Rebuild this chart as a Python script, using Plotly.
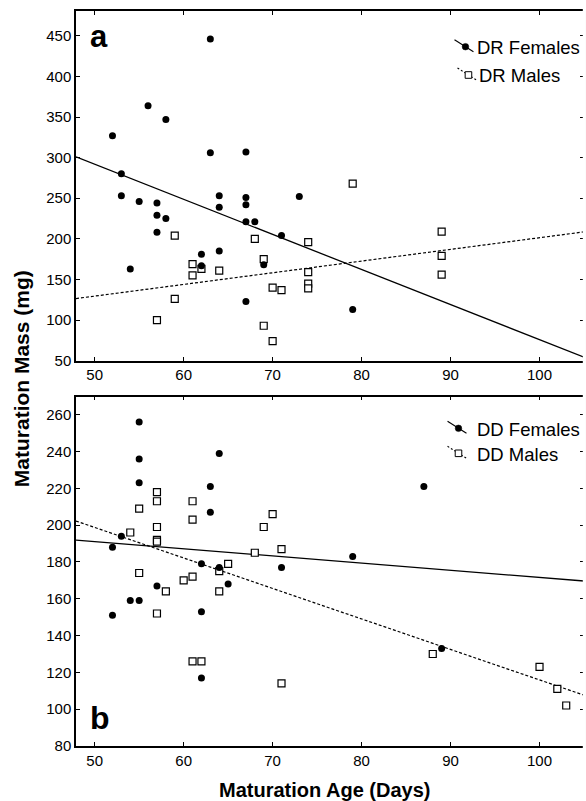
import plotly.graph_objects as go

# ---------------- data ----------------
DR_F_AGE = [63, 56, 58, 52, 63, 67, 53, 53, 55, 57, 57, 58, 57, 64, 64, 67, 67, 67, 68,
            73, 71, 62, 62, 64, 54, 69, 67, 79]
DR_F_MASS = [446, 364, 347, 327, 306, 307, 280, 253, 246, 244, 229, 225, 208, 253, 239,
             251, 242, 221, 221, 252, 204, 181, 167, 185, 163, 168, 123, 113]

DR_M_AGE = [79, 59, 68, 61, 61, 62, 64, 69, 59, 57, 70, 71, 69, 70, 74, 74, 74, 74, 89, 89, 89]
DR_M_MASS = [268, 204, 200, 169, 155, 163, 161, 175, 126, 100, 140, 137, 93, 74, 196, 159,
             145, 139, 209, 179, 156]

DD_F_AGE = [55, 55, 55, 64, 63, 63, 53, 52, 62, 64, 71, 65, 57, 87, 79, 52, 54, 55, 62, 62, 89]
DD_F_MASS = [256, 236, 223, 239, 221, 207, 194, 188, 179, 177, 177, 168, 167, 221, 183, 151,
             159, 159, 153, 117, 133]

DD_M_AGE = [55, 57, 57, 57, 57, 57, 54, 55, 61, 61, 69, 70, 68, 71, 65, 64, 61, 60, 58, 64,
            57, 61, 62, 71, 88, 100, 102, 103]
DD_M_MASS = [209, 218, 213, 199, 192, 191, 196, 174, 213, 203, 199, 206, 185, 187, 179, 175,
             172, 170, 164, 164, 152, 126, 126, 114, 130, 123, 111, 102]

# regression lines (intercept, slope) as drawn in the reference
DR_F_FIT = (507.9, -4.32)
DR_M_FIT = (57.6, 1.438)
DD_F_FIT = (210.6, -0.39)
DD_M_FIT = (281.6, -1.657)

X_RANGE = [47.9, 105.0]
X_TICKS = [50, 60, 70, 80, 90, 100]
DR_Y_RANGE = [50, 480.5]
DR_Y_TICKS = [50, 100, 150, 200, 250, 300, 350, 400, 450]
DD_Y_RANGE = [80, 269.8]
DD_Y_TICKS = [80, 100, 120, 140, 160, 180, 200, 220, 240, 260]

# ---------------- layout constants ----------------
W, H = 586, 801
ML, MR, MT, MB = 76, 0, 11, 55
PW = W - ML - MR
PH = H - MT - MB
FONT = "Arial, Liberation Sans, sans-serif"


def pxx(x):
    return (x - ML) / PW


def pxy(y):
    return (MT + PH - y) / PH


TOP_DOM = [pxy(360.7), 1.0]
BOT_DOM = [0.0, pxy(396.7)]


def fit_line(fit):
    a, b = fit
    return X_RANGE, [a + b * x for x in X_RANGE]


fig = go.Figure()

panels = [
    ("x", "y", DR_F_AGE, DR_F_MASS, DR_M_AGE, DR_M_MASS, DR_F_FIT, DR_M_FIT),
    ("x2", "y2", DD_F_AGE, DD_F_MASS, DD_M_AGE, DD_M_MASS, DD_F_FIT, DD_M_FIT),
]
for xa, ya, fa, fm, ma, mm, ff, mf in panels:
    lx, ly = fit_line(ff)
    fig.add_trace(go.Scatter(x=lx, y=ly, mode="lines", xaxis=xa, yaxis=ya,
                             line=dict(color="black", width=1.3), showlegend=False,
                             hoverinfo="skip"))
    lx, ly = fit_line(mf)
    fig.add_trace(go.Scatter(x=lx, y=ly, mode="lines", xaxis=xa, yaxis=ya,
                             line=dict(color="black", width=1.2, dash="3px,2px"),
                             showlegend=False, hoverinfo="skip"))
    fig.add_trace(go.Scatter(x=ma, y=mm, mode="markers", xaxis=xa, yaxis=ya,
                             marker=dict(symbol="square", size=7, color="white",
                                         line=dict(color="black", width=1.2)),
                             showlegend=False))
    fig.add_trace(go.Scatter(x=fa, y=fm, mode="markers", xaxis=xa, yaxis=ya,
                             marker=dict(symbol="circle", size=7, color="black",
                                         line=dict(width=0)),
                             showlegend=False))

axis_common = dict(showline=True, linecolor="black", linewidth=1.5, mirror="ticks",
                   ticks="inside", ticklen=4, tickwidth=1, tickcolor="black",
                   showgrid=False, zeroline=False,
                   tickfont=dict(family=FONT, size=15, color="black"))

fig.update_layout(
    width=W, height=H,
    margin=dict(l=ML, r=MR, t=MT, b=MB, pad=0),
    paper_bgcolor="white", plot_bgcolor="white",
    showlegend=False,
    xaxis=dict(domain=[0, 1], range=X_RANGE, tickvals=X_TICKS, anchor="y", **axis_common),
    yaxis=dict(domain=TOP_DOM, range=DR_Y_RANGE, tickvals=DR_Y_TICKS, anchor="x", **axis_common),
    xaxis2=dict(domain=[0, 1], range=X_RANGE, tickvals=X_TICKS, anchor="y2", **axis_common),
    yaxis2=dict(domain=BOT_DOM, range=DD_Y_RANGE, tickvals=DD_Y_TICKS, anchor="x2", **axis_common),
)

# ---------------- text annotations ----------------
ann = []
ann.append(dict(text="<b>Maturation Age (Days)</b>", x=pxx(326), y=pxy(790),
                xref="paper", yref="paper", showarrow=False, xanchor="center", yanchor="middle",
                font=dict(family=FONT, size=20, color="black")))
ann.append(dict(text="<b>Maturation Mass (mg)</b>", x=pxx(22), y=pxy(379), textangle=-90,
                xref="paper", yref="paper", showarrow=False, xanchor="center", yanchor="middle",
                font=dict(family=FONT, size=21, color="black")))
ann.append(dict(text="<b>a</b>", x=pxx(88), y=pxy(36),
                xref="paper", yref="paper", showarrow=False, xanchor="left", yanchor="middle",
                font=dict(family=FONT, size=31, color="black")))
ann.append(dict(text="<b>b</b>", x=pxx(88), y=pxy(718),
                xref="paper", yref="paper", showarrow=False, xanchor="left", yanchor="middle",
                font=dict(family=FONT, size=32, color="black")))

# legend entries: label, text-left px, text-center px, glyph offset, marker kind, dashed
LEGEND = [
    ("DR Females", 477, 47.7, -10, "circle", False),
    ("DR Males", 479, 76.0, -9, "square", True),
    ("DD Females", 477, 429.3, -17, "circle", False),
    ("DD Males", 477, 454.3, -17, "square", True),
]
shapes = []
for label, tx, ty, off, kind, dashed in LEGEND:
    ann.append(dict(text=label, x=pxx(tx), y=pxy(ty), xref="paper", yref="paper",
                    showarrow=False, xanchor="left", yanchor="middle",
                    font=dict(family=FONT, size=18.5, color="black")))
    mx, my = tx + off, ty - 1
    shapes.append(dict(type="line", xref="paper", yref="paper",
                       x0=pxx(mx - 11), y0=pxy(my - 7), x1=pxx(mx + 8), y1=pxy(my + 5),
                       line=dict(color="black", width=1.1, dash="2px,2px" if dashed else "solid")))
    r = 3.3
    if kind == "circle":
        shapes.append(dict(type="circle", xref="paper", yref="paper",
                           x0=pxx(mx - r), x1=pxx(mx + r), y0=pxy(my + r), y1=pxy(my - r),
                           fillcolor="black", line=dict(color="black", width=0.5)))
    else:
        shapes.append(dict(type="rect", xref="paper", yref="paper",
                           x0=pxx(mx - r), x1=pxx(mx + r), y0=pxy(my + r), y1=pxy(my - r),
                           fillcolor="white", line=dict(color="black", width=1)))

# the reference is cropped at its right edge: hide the mirrored right axis line
shapes.append(dict(type="rect", xref="paper", yref="paper", layer="above",
                   x0=pxx(W - 1.2), x1=pxx(W + 2), y0=-0.01, y1=1.01,
                   fillcolor="white", line=dict(width=0)))

fig.update_layout(annotations=ann, shapes=shapes)

fig.write_html("out.html")
